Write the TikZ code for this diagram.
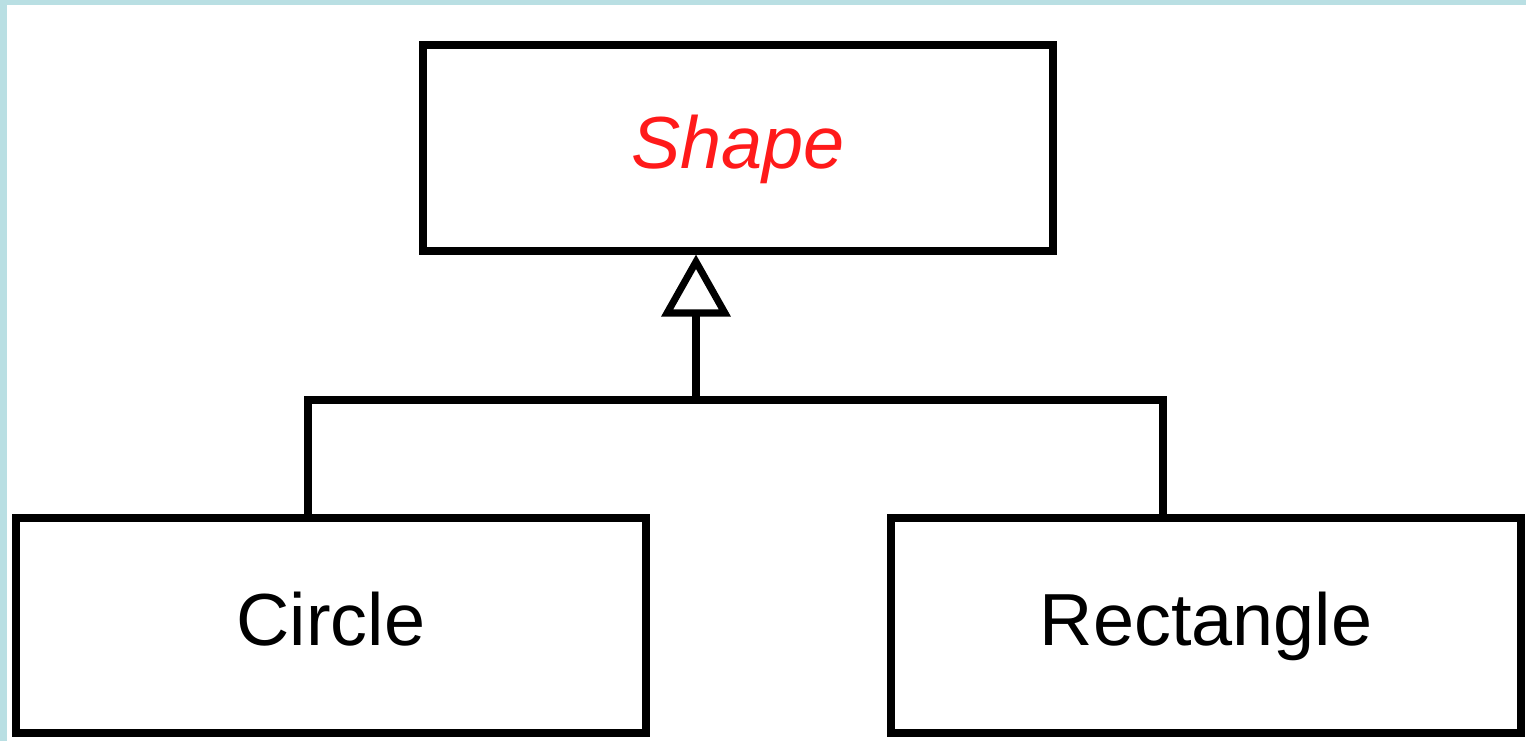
\documentclass[tikz,border=0pt]{standalone}
\usepackage{fontspec}
\setmainfont{Liberation Sans}
\usetikzlibrary{arrows.meta}

\definecolor{framecol}{HTML}{B9DFE3}
\definecolor{abstractcol}{HTML}{FF1A1A}

\tikzset{
  classbox/.style={draw, line width=2pt, rectangle, minimum width=6.3cm,
    font=\fontsize{21}{24}\selectfont, inner sep=0pt,
    text height=2.2ex, text depth=0ex},
  inherit/.style={line width=2pt,
    -{Triangle[open, length=0.62cm, width=0.68cm, line width=2pt]}}
}

\begin{document}
\begin{tikzpicture}
      % frame and page
      \useasboundingbox (0,0) rectangle (15.26,7.41);
      \fill[framecol] (0,0) rectangle (15.26,7.41);
      \fill[white] (0.07,0) rectangle (15.26,7.36);

      % classes
      \node[classbox, minimum height=2.06cm, text=abstractcol] (shape) at (7.38,5.93) {\textit{Shape}};
      \node[classbox, minimum height=2.15cm] (circle) at (3.31,1.155) {Circle};
      \node[classbox, minimum height=2.15cm] (rect) at (12.06,1.155) {Rectangle};

      % join point of the generalisation
      \coordinate (join) at (6.96,3.41);

      % generalisation
      \draw[line width=2pt] ([xshift=-0.23cm]circle.north) |- (join) -| ([xshift=-0.43cm]rect.north);
      \draw[inherit] (join) -- (join |- shape.south);
    \end{tikzpicture}
\end{document}
